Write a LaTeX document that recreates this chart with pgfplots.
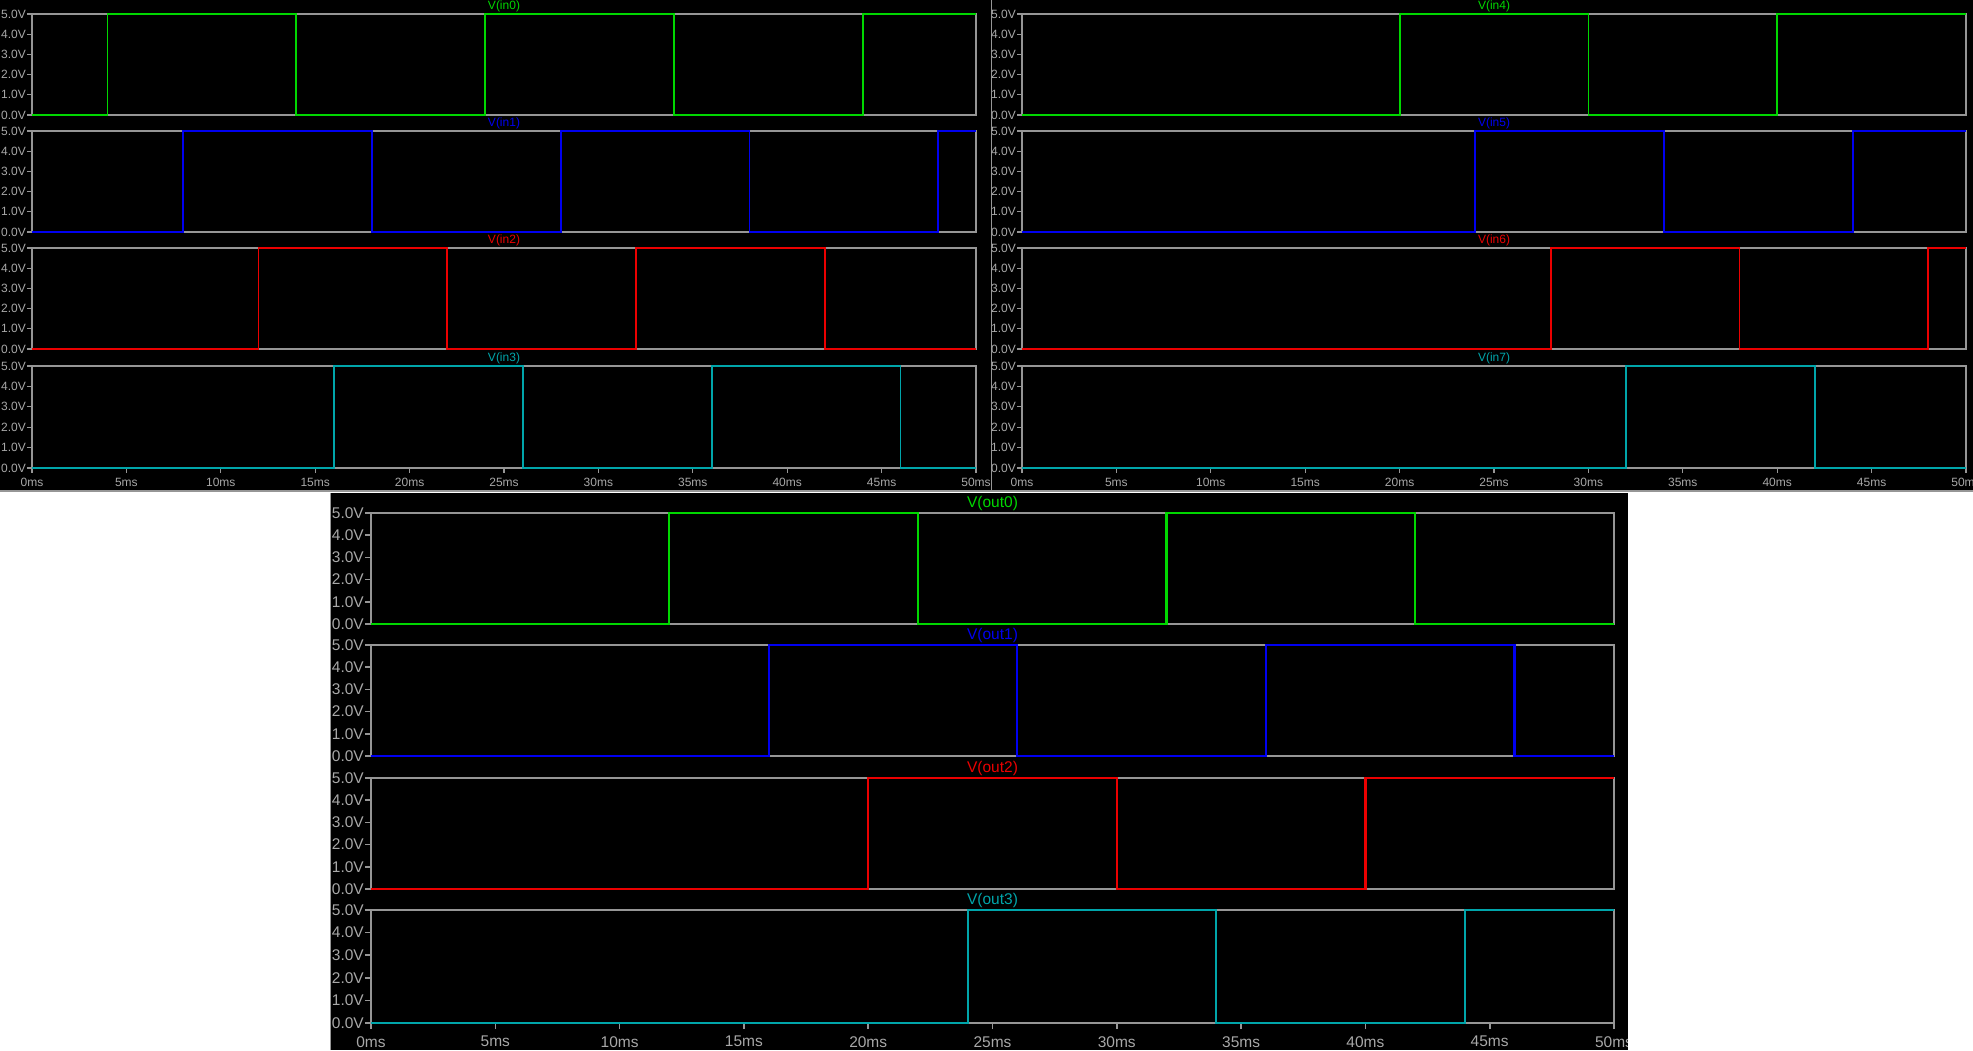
\documentclass[border=0pt]{standalone}
\usepackage{pgfplots}
\pgfplotsset{compat=1.18}
\usepackage{fontspec}
\setmainfont{Liberation Sans}
\definecolor{axgray}{RGB}{150,150,150}
\definecolor{lblgray}{RGB}{168,168,168}
\definecolor{tgreen}{RGB}{0,215,0}
\definecolor{tblue}{RGB}{0,0,240}
\definecolor{tred}{RGB}{235,0,0}
\definecolor{tcyan}{RGB}{0,165,170}
\pgfplotsset{
  every axis title shift=0pt,
  lt/.style={scale only axis, xmin=0, xmax=50, ymin=0, ymax=5, clip=false,
    anchor=north west,
    ytick={0,1,2,3,4,5}, ytick pos=left, xtick=\empty,
    tick align=outside,
    /pgf/number format/assume math mode=true,
    yticklabel={\pgfmathprintnumber[fixed,fixed zerofill,precision=1]{\tick}V},
    tick label style={text=lblgray},
    yticklabel style={inner sep=1pt},
    title style={at={(0.5,1)}, anchor=south, inner sep=0pt}},
  xlast/.style={xtick={0,5,...,50}, xtick pos=bottom,
    xticklabel={\pgfmathprintnumber{\tick}ms}},
  top/.style={lt, width=944pt, height=101pt, major tick length=5pt,
    axis line style={draw=axgray, line width=1.4pt},
    tick style={draw=axgray, line width=1.3pt},
    tick label style={font=\fontsize{12}{12}\selectfont},
    title style={font=\fontsize{12}{12}\selectfont, yshift=1.5pt},
    xticklabel style={inner sep=2pt, yshift=-3pt}},
  bot/.style={lt, width=1243pt, height=111pt, major tick length=6pt,
    axis line style={draw=axgray, line width=1.8pt},
    tick style={draw=axgray, line width=1.6pt},
    tick label style={font=\fontsize{15.5}{15.5}\selectfont},
    title style={font=\fontsize{15.5}{15.5}\selectfont, yshift=2pt},
    xticklabel style={inner sep=2pt, yshift=-5pt}},
  trT/.style={const plot, line width=1.8pt, line join=miter},
  trB/.style={const plot, line width=2.2pt, line join=miter},
}
\begin{document}
\begin{tikzpicture}
\useasboundingbox (0pt,0pt) rectangle (1973pt,1050pt);
\fill[white] (0pt,0pt) rectangle (1973pt,1050pt);
% top panels
\fill[black] (0pt,559pt) rectangle (991pt,1050pt);
\fill[black] (992pt,559pt) rectangle (1973pt,1050pt);
\draw[axgray, line width=1.5pt] (991.5pt,559pt) -- (991.5pt,1050pt);
\draw[axgray, line width=1.5pt] (0pt,559pt) -- (1973pt,559pt);
% bottom panel
\fill[black] (330pt,0pt) rectangle (1628pt,557pt);
\draw[axgray, line width=1.2pt] (330.5pt,0pt) -- (330.5pt,557pt);

% ---------- top-left ----------
\begin{axis}[top, at={(32pt,1036pt)}, title={V(in0)}, title style={text=tgreen}]
\addplot[trT, tgreen] coordinates {(0,0)(4,5)(14,0)(24,5)(34,0)(44,5)(50,5)};
\end{axis}
\begin{axis}[top, at={(32pt,919pt)}, title={V(in1)}, title style={text=tblue}]
\addplot[trT, tblue] coordinates {(0,0)(8,5)(18,0)(28,5)(38,0)(48,5)(50,5)};
\end{axis}
\begin{axis}[top, at={(32pt,802pt)}, title={V(in2)}, title style={text=tred}]
\addplot[trT, tred] coordinates {(0,0)(12,5)(22,0)(32,5)(42,0)(50,0)};
\end{axis}
\begin{axis}[top, xlast, at={(32pt,684pt)}, height=102pt, title={V(in3)}, title style={text=tcyan}]
\addplot[trT, tcyan] coordinates {(0,0)(16,5)(26,0)(36,5)(46,0)(50,0)};
\end{axis}

% ---------- top-right ----------
\begin{axis}[top, at={(1022pt,1036pt)}, title={V(in4)}, title style={text=tgreen}]
\addplot[trT, tgreen] coordinates {(0,0)(20,5)(30,0)(40,5)(50,5)};
\end{axis}
\begin{axis}[top, at={(1022pt,919pt)}, title={V(in5)}, title style={text=tblue}]
\addplot[trT, tblue] coordinates {(0,0)(24,5)(34,0)(44,5)(50,5)};
\end{axis}
\begin{axis}[top, at={(1022pt,802pt)}, title={V(in6)}, title style={text=tred}]
\addplot[trT, tred] coordinates {(0,0)(28,5)(38,0)(48,5)(50,5)};
\end{axis}
\begin{axis}[top, xlast, at={(1022pt,684pt)}, height=102pt, title={V(in7)}, title style={text=tcyan}]
\addplot[trT, tcyan] coordinates {(0,0)(32,5)(42,0)(50,0)};
\end{axis}

% ---------- bottom ----------
\begin{axis}[bot, at={(371pt,537pt)}, title={V(out0)}, title style={text=tgreen}]
\addplot[trB, tgreen] coordinates {(0,0)(12,5)(22,0)(32,5)(42,0)(50,0)};
\end{axis}
\begin{axis}[bot, at={(371pt,405pt)}, title={V(out1)}, title style={text=tblue}]
\addplot[trB, tblue] coordinates {(0,0)(16,5)(26,0)(36,5)(46,0)(50,0)};
\end{axis}
\begin{axis}[bot, at={(371pt,272pt)}, title={V(out2)}, title style={text=tred}]
\addplot[trB, tred] coordinates {(0,0)(20,5)(30,0)(40,5)(50,5)};
\end{axis}
\begin{axis}[bot, xlast, at={(371pt,140pt)}, height=113pt, title={V(out3)}, title style={text=tcyan}]
\addplot[trB, tcyan] coordinates {(0,0)(24,5)(34,0)(44,5)(50,5)};
\end{axis}

\fill[white] (1628pt,0pt) rectangle (1973pt,557.2pt);
\end{tikzpicture}
\end{document}
